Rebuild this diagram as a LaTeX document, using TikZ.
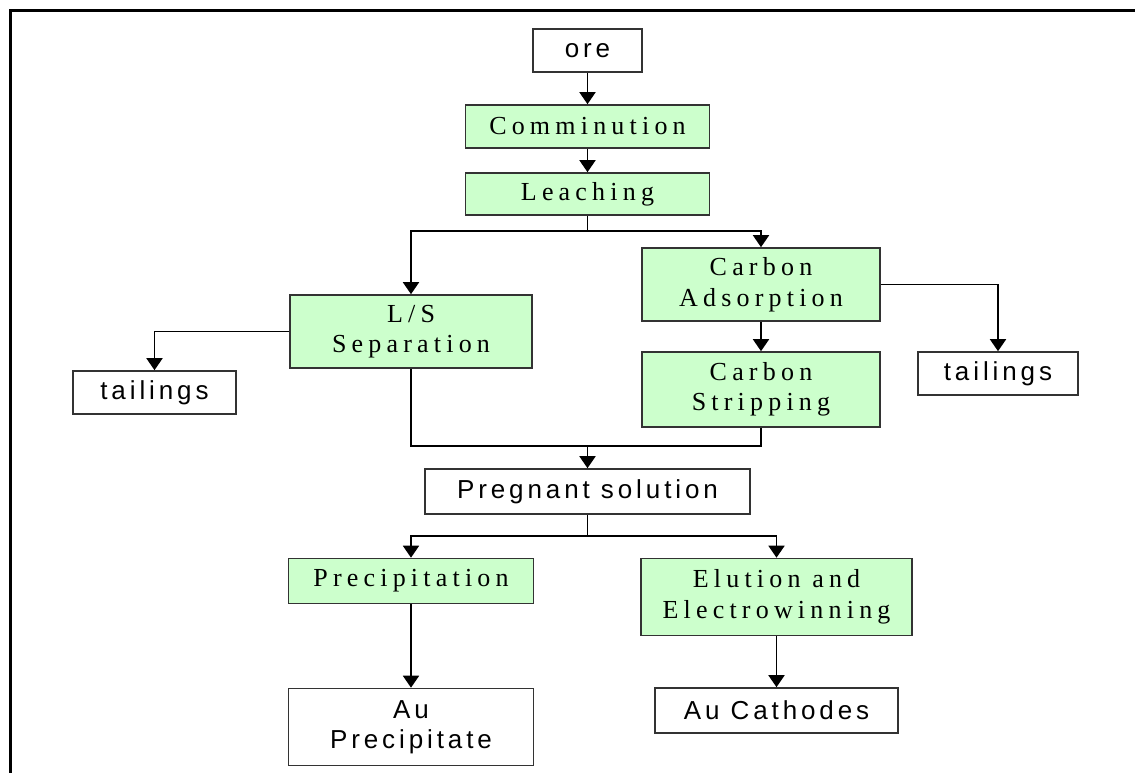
\documentclass[tikz,border=0pt]{standalone}
\usepackage{fontspec}
\usetikzlibrary{arrows.meta}
\newfontfamily\serifsp{Liberation Serif}[LetterSpace=20]
\newfontfamily\sanssp{Liberation Sans}[LetterSpace=15]
\definecolor{boxgreen}{HTML}{CCFFCC}
\tikzset{
  basebox/.style={draw=black!80, line width=1.6pt, inner sep=0pt, align=center, anchor=center},
  procbox/.style={basebox, fill=boxgreen, font=\fontsize{26}{30.5}\selectfont\serifsp},
  prodbox/.style={basebox, fill=white, font=\fontsize{26}{30.5}\selectfont\sanssp},
  conn/.style={line width=1.8pt, draw=black},
  arr/.style={conn, -{Triangle[width=16pt,length=12pt]}}
}
\begin{document}
\begin{tikzpicture}[x=1pt,y=-1pt]
\useasboundingbox (0,0) rectangle (1135,773);
\draw[line width=3pt] (10.5,773) -- (10.5,10.5) -- (1135,10.5);

\node[prodbox, minimum width=109pt, minimum height=43pt] (ore) at (587.5,50.5) {ore};
\node[procbox, minimum width=244pt, minimum height=43pt] (comm) at (587.5,126.5) {Comminution};
\node[procbox, minimum width=244pt, minimum height=42pt] (leach) at (587.5,194) {Leaching};
\node[procbox, minimum width=242pt, minimum height=73pt] (ls) at (411,331.5) {L/S\\Separation};
\node[prodbox, minimum width=163pt, minimum height=43pt] (tl) at (154.5,392.5) {tailings};
\node[procbox, minimum width=238pt, minimum height=73pt] (ads) at (761,284.5) {Carbon\\Adsorption};
\node[prodbox, minimum width=160pt, minimum height=43pt] (tr) at (998,373.5) {tailings};
\node[procbox, minimum width=238pt, minimum height=75pt] (strip) at (761,389.5) {Carbon\\Stripping};
\node[prodbox, minimum width=325pt, minimum height=45pt] (preg) at (587.5,491.5) {Pregnant solution};
\node[procbox, minimum width=245pt, minimum height=45pt] (prec) at (411,581) {Precipitation};
\node[procbox, minimum width=271pt, minimum height=77pt] (elu) at (776.5,597) {Elution and\\Electrowinning};
\node[prodbox, minimum width=245pt, minimum height=77pt] (aup) at (411,727) {Au\\Precipitate};
\node[prodbox, minimum width=243pt, minimum height=45pt] (auc) at (776.5,710.5) {Au Cathodes};

\coordinate (j1) at (587.5,231);
\coordinate (j2) at (587.5,446);
\coordinate (j3) at (587.5,536);

\draw[arr] (ore) -- (comm);
\draw[arr] (comm) -- (leach);
\draw[conn] (leach) -- (j1);
\draw[arr] (j1) -| (ls);
\draw[arr] (j1) -| (ads);
\draw[arr] (ls.west) -| (tl);
\draw[arr] (ads.east) -| (tr);
\draw[arr] (ads) -- (strip);
\draw[conn] (ls.south) |- (j2);
\draw[conn] (strip.south) |- (j2);
\draw[arr] (j2) -- (preg);
\draw[conn] (preg) -- (j3);
\draw[arr] (j3) -| (prec);
\draw[arr] (j3) -| (elu);
\draw[arr] (prec) -- (aup);
\draw[arr] (elu) -- (auc);
\end{tikzpicture}
\end{document}
